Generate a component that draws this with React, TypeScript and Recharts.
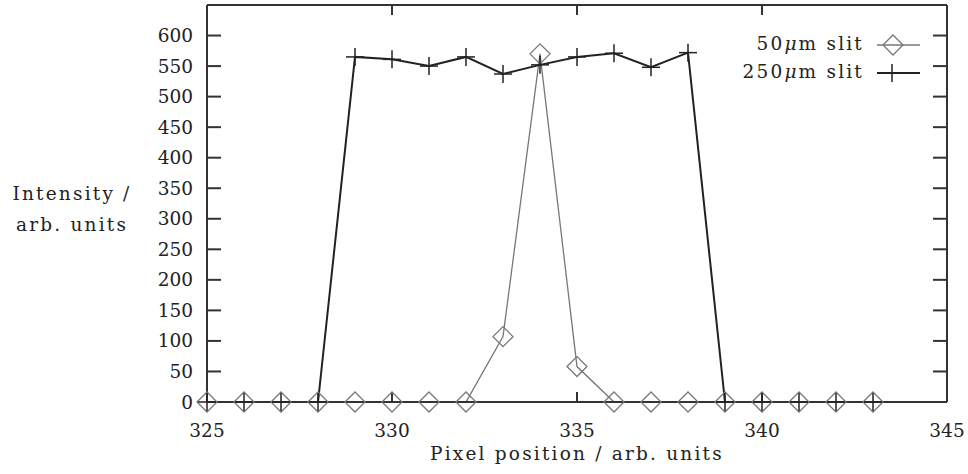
import React from 'react';
import { LineChart, Line, XAxis, YAxis, Legend, ReferenceLine } from 'recharts';

const pixels = [325, 326, 327, 328, 329, 330, 331, 332, 333, 334, 335, 336, 337, 338, 339, 340, 341, 342, 343];
const slit50 = [0, 0, 0, 0, 0, 0, 0, 0, 107, 570, 58, 0, 0, 0, 0, 0, 0, 0, 0];
const slit250 = [0, 0, 0, 0, 565, 561, 550, 565, 537, 552, 565, 571, 548, 572, 0, 0, 0, 0, 0];
const xTicks = [325, 330, 335, 340, 345];
const yTicks = [0, 50, 100, 150, 200, 250, 300, 350, 400, 450, 500, 550, 600];
const seriesLabels = { s50: '50', s250: '250' };

const data = pixels.map((p, i) => ({ x: p, s50: slit50[i], s250: slit250[i] }));

const FONT = '"DejaVu Serif", "Liberation Serif", serif';
const FS = 18.5;
const LS = 2.2;
const AX = '#333';
const TXT = '#222';

const Diamond = (props: any) => {
  const { cx, cy } = props;
  if (cx == null || cy == null) return null;
  const r = 10;
  return <path d={`M${cx - r},${cy}L${cx},${cy - r}L${cx + r},${cy}L${cx},${cy + r}Z`} fill="none" stroke="#777" strokeWidth={1.3} />;
};
const Plus = (props: any) => {
  const { cx, cy } = props;
  if (cx == null || cy == null) return null;
  const r = 9;
  return (
    <g stroke="#222" strokeWidth={1.5}>
      <line x1={cx - r} y1={cy} x2={cx + r} y2={cy} />
      <line x1={cx} y1={cy - r} x2={cx} y2={cy + r} />
    </g>
  );
};

const XTickShape = (p: any) => {
  const x = p.x1;
  const top = Math.min(p.y1, p.y2);
  const bot = Math.max(p.y1, p.y2);
  return (
    <g stroke={AX} strokeWidth={2}>
      <line x1={x} y1={bot} x2={x} y2={bot - 10} />
      <line x1={x} y1={top} x2={x} y2={top + 10} />
    </g>
  );
};
const YTickShape = (p: any) => {
  const y = p.y1;
  const left = Math.min(p.x1, p.x2);
  const right = Math.max(p.x1, p.x2);
  return (
    <g stroke={AX} strokeWidth={2}>
      <line x1={left} y1={y} x2={left + 14} y2={y} />
      <line x1={right} y1={y} x2={right - 14} y2={y} />
    </g>
  );
};

const LegendContent = () => (
  <svg width={320} height={60} style={{ overflow: 'visible' }}>
    <g fontFamily={FONT} fontSize={FS} fill={TXT} letterSpacing={LS}>
      <text x={224} y={20} textAnchor="end">
        {seriesLabels.s50}<tspan fontStyle="italic">μ</tspan>m slit
      </text>
      <text x={224} y={48} textAnchor="end">
        {seriesLabels.s250}<tspan fontStyle="italic">μ</tspan>m slit
      </text>
    </g>
    <line x1={237} y1={15} x2={280} y2={15} stroke="#777" strokeWidth={1.3} />
    <Diamond cx={253} cy={15} />
    <line x1={237} y1={43} x2={280} y2={43} stroke="#222" strokeWidth={2} />
    <Plus cx={252} cy={43} />
  </svg>
);

const YLabel = (props: any) => {
  const { viewBox } = props;
  const cy = viewBox.y + viewBox.height / 2;
  return (
    <g fontFamily={FONT} fontSize={FS} fill={TXT} letterSpacing={LS}>
      <text x={72} y={cy - 4} textAnchor="middle">Intensity /</text>
      <text x={72} y={cy + 27} textAnchor="middle">arb. units</text>
    </g>
  );
};

const tickFont = { fontFamily: FONT, fontSize: FS, fill: TXT };
const axisLine = { stroke: AX, strokeWidth: 2 };

export default function App() {
  return (
    <div style={{ position: 'absolute', left: 0, top: 0, background: '#fff' }}>
      <LineChart width={968} height={474} data={data} margin={{ top: 0, right: 16, bottom: 32, left: 87 }}>
        <XAxis xAxisId="b" dataKey="x" type="number" domain={[325, 345]} ticks={xTicks} orientation="bottom"
          height={40} tickSize={0} tickMargin={22} tick={tickFont} tickLine={false} axisLine={axisLine}
          label={{ value: 'Pixel position / arb. units', position: 'insideBottom', offset: -18, fontFamily: FONT, fontSize: FS, fill: TXT, letterSpacing: LS }} />
        <XAxis xAxisId="t" dataKey="x" type="number" domain={[325, 345]} ticks={xTicks} orientation="top"
          height={5} tick={false} tickLine={false} axisLine={axisLine} />
        <YAxis yAxisId="l" type="number" domain={[0, 650]} ticks={yTicks} orientation="left" width={120}
          tickSize={0} tickMargin={14} tick={tickFont} tickLine={false} axisLine={axisLine}
          label={<YLabel />} />
        <YAxis yAxisId="r" type="number" domain={[0, 650]} ticks={yTicks} orientation="right" width={5}
          tick={false} tickLine={false} axisLine={axisLine} />
        {xTicks.map((v) => (
          <ReferenceLine key={`xt${v}`} xAxisId="b" yAxisId="l" x={v} ifOverflow="visible" shape={XTickShape} />
        ))}
        {yTicks.map((v) => (
          <ReferenceLine key={`yt${v}`} xAxisId="b" yAxisId="l" y={v} ifOverflow="visible" shape={YTickShape} />
        ))}
        <Legend layout="vertical" align="center" verticalAlign="middle" content={<LegendContent />}
          wrapperStyle={{ position: 'absolute', left: 640, top: 30, width: 320, height: 60 }} />
        <Line xAxisId="b" yAxisId="l" dataKey="s50" name="50μm slit" stroke="#777" strokeWidth={1.3}
          dot={<Diamond />} activeDot={false} isAnimationActive={false} type="linear" />
        <Line xAxisId="b" yAxisId="l" dataKey="s250" name="250μm slit" stroke="#222" strokeWidth={2}
          dot={<Plus />} activeDot={false} isAnimationActive={false} type="linear" />
      </LineChart>
    </div>
  );
}
